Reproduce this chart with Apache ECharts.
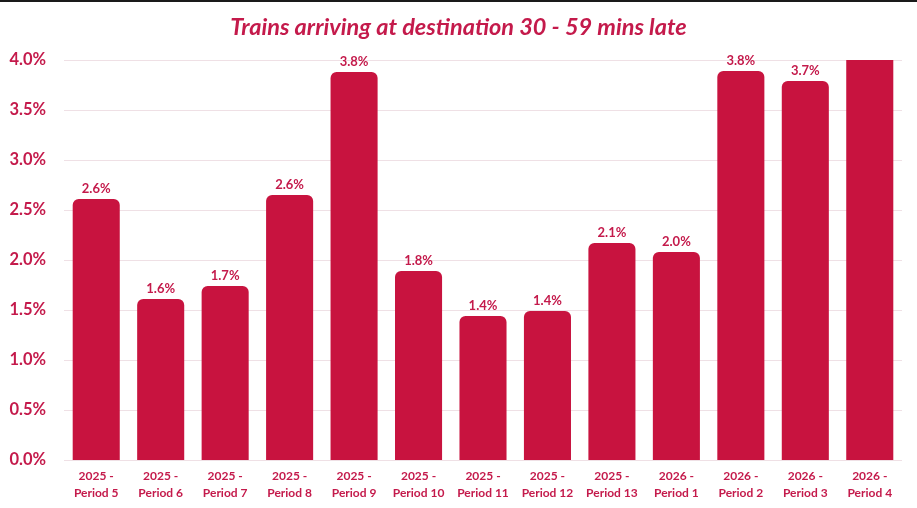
<!DOCTYPE html>
<html>
<head>
<meta charset="utf-8">
<script src="https://cdn.jsdelivr.net/npm/echarts@6/dist/echarts.min.js"></script>
<style>
  html, body { margin: 0; padding: 0; background: #fff; }
  #topline { position: absolute; left: 0; top: 0; width: 917px; height: 2px; background: #1a1a1a; z-index: 2; }
  #main { width: 917px; height: 508px; }
</style>
</head>
<body>
<div id="topline"></div>
<div id="main"></div>
<script>
// chart data
const categories = [
  '2025 -\nPeriod 5', '2025 -\nPeriod 6', '2025 -\nPeriod 7', '2025 -\nPeriod 8',
  '2025 -\nPeriod 9', '2025 -\nPeriod 10', '2025 -\nPeriod 11', '2025 -\nPeriod 12',
  '2025 -\nPeriod 13', '2026 -\nPeriod 1', '2026 -\nPeriod 2', '2026 -\nPeriod 3',
  '2026 -\nPeriod 4'
];
const lateValues = [2.61, 1.61, 1.74, 2.65, 3.88, 1.89, 1.44, 1.49, 2.17, 2.08, 3.89, 3.79, 4.2];
const yMin = 0;
const yMax = 4;
const yStep = 0.5;

const red = '#c8133f';
const textRed = '#c41a4b';
const fontFamily = 'Lato, "Open Sans", sans-serif';

// bars above the axis max get clipped and lose their label
const barData = lateValues.map(function (v) {
  if (v > yMax) {
    return { value: v, label: { show: false }, itemStyle: { borderRadius: 0 } };
  }
  return v;
});

const option = {
  backgroundColor: '#fff',
  animation: false,
  title: {
    text: 'Trains arriving at destination 30 - 59 mins late',
    left: 'center',
    top: 11,
    textStyle: {
      color: textRed,
      fontFamily: fontFamily,
      fontSize: 23.5,
      fontWeight: 'bold',
      fontStyle: 'italic'
    }
  },
  grid: {
    left: 64,
    right: 15,
    top: 60,
    bottom: 48,
    containLabel: false
  },
  xAxis: {
    type: 'category',
    data: categories,
    axisLine: { show: false },
    axisTick: { show: false },
    axisLabel: {
      color: textRed,
      fontFamily: fontFamily,
      fontSize: 12,
      fontWeight: 'bold',
      lineHeight: 17,
      margin: 8,
      interval: 0
    }
  },
  yAxis: {
    type: 'value',
    min: yMin,
    max: yMax,
    interval: yStep,
    axisLine: { show: false },
    axisTick: { show: false },
    splitLine: { lineStyle: { color: '#efe0e5', width: 1 } },
    axisLabel: {
      color: textRed,
      fontFamily: fontFamily,
      fontSize: 16.5,
      fontWeight: 'bold',
      margin: 18,
      formatter: function (v) { return v.toFixed(1) + '%'; }
    }
  },
  series: [
    {
      name: 'Late 30-59',
      type: 'bar',
      data: barData,
      barWidth: '73%',
      clip: true,
      itemStyle: {
        color: red,
        borderRadius: [6, 6, 0, 0]
      },
      label: {
        show: true,
        position: 'top',
        distance: 4,
        color: textRed,
        fontFamily: fontFamily,
        fontSize: 13,
        fontWeight: 'bold',
        formatter: function (p) {
          return (Math.floor(p.value * 10 + 1e-9) / 10).toFixed(1) + '%';
        }
      }
    }
  ]
};

let myChart = echarts.init(document.getElementById('main'));
myChart.setOption(option);
</script>
</body>
</html>
